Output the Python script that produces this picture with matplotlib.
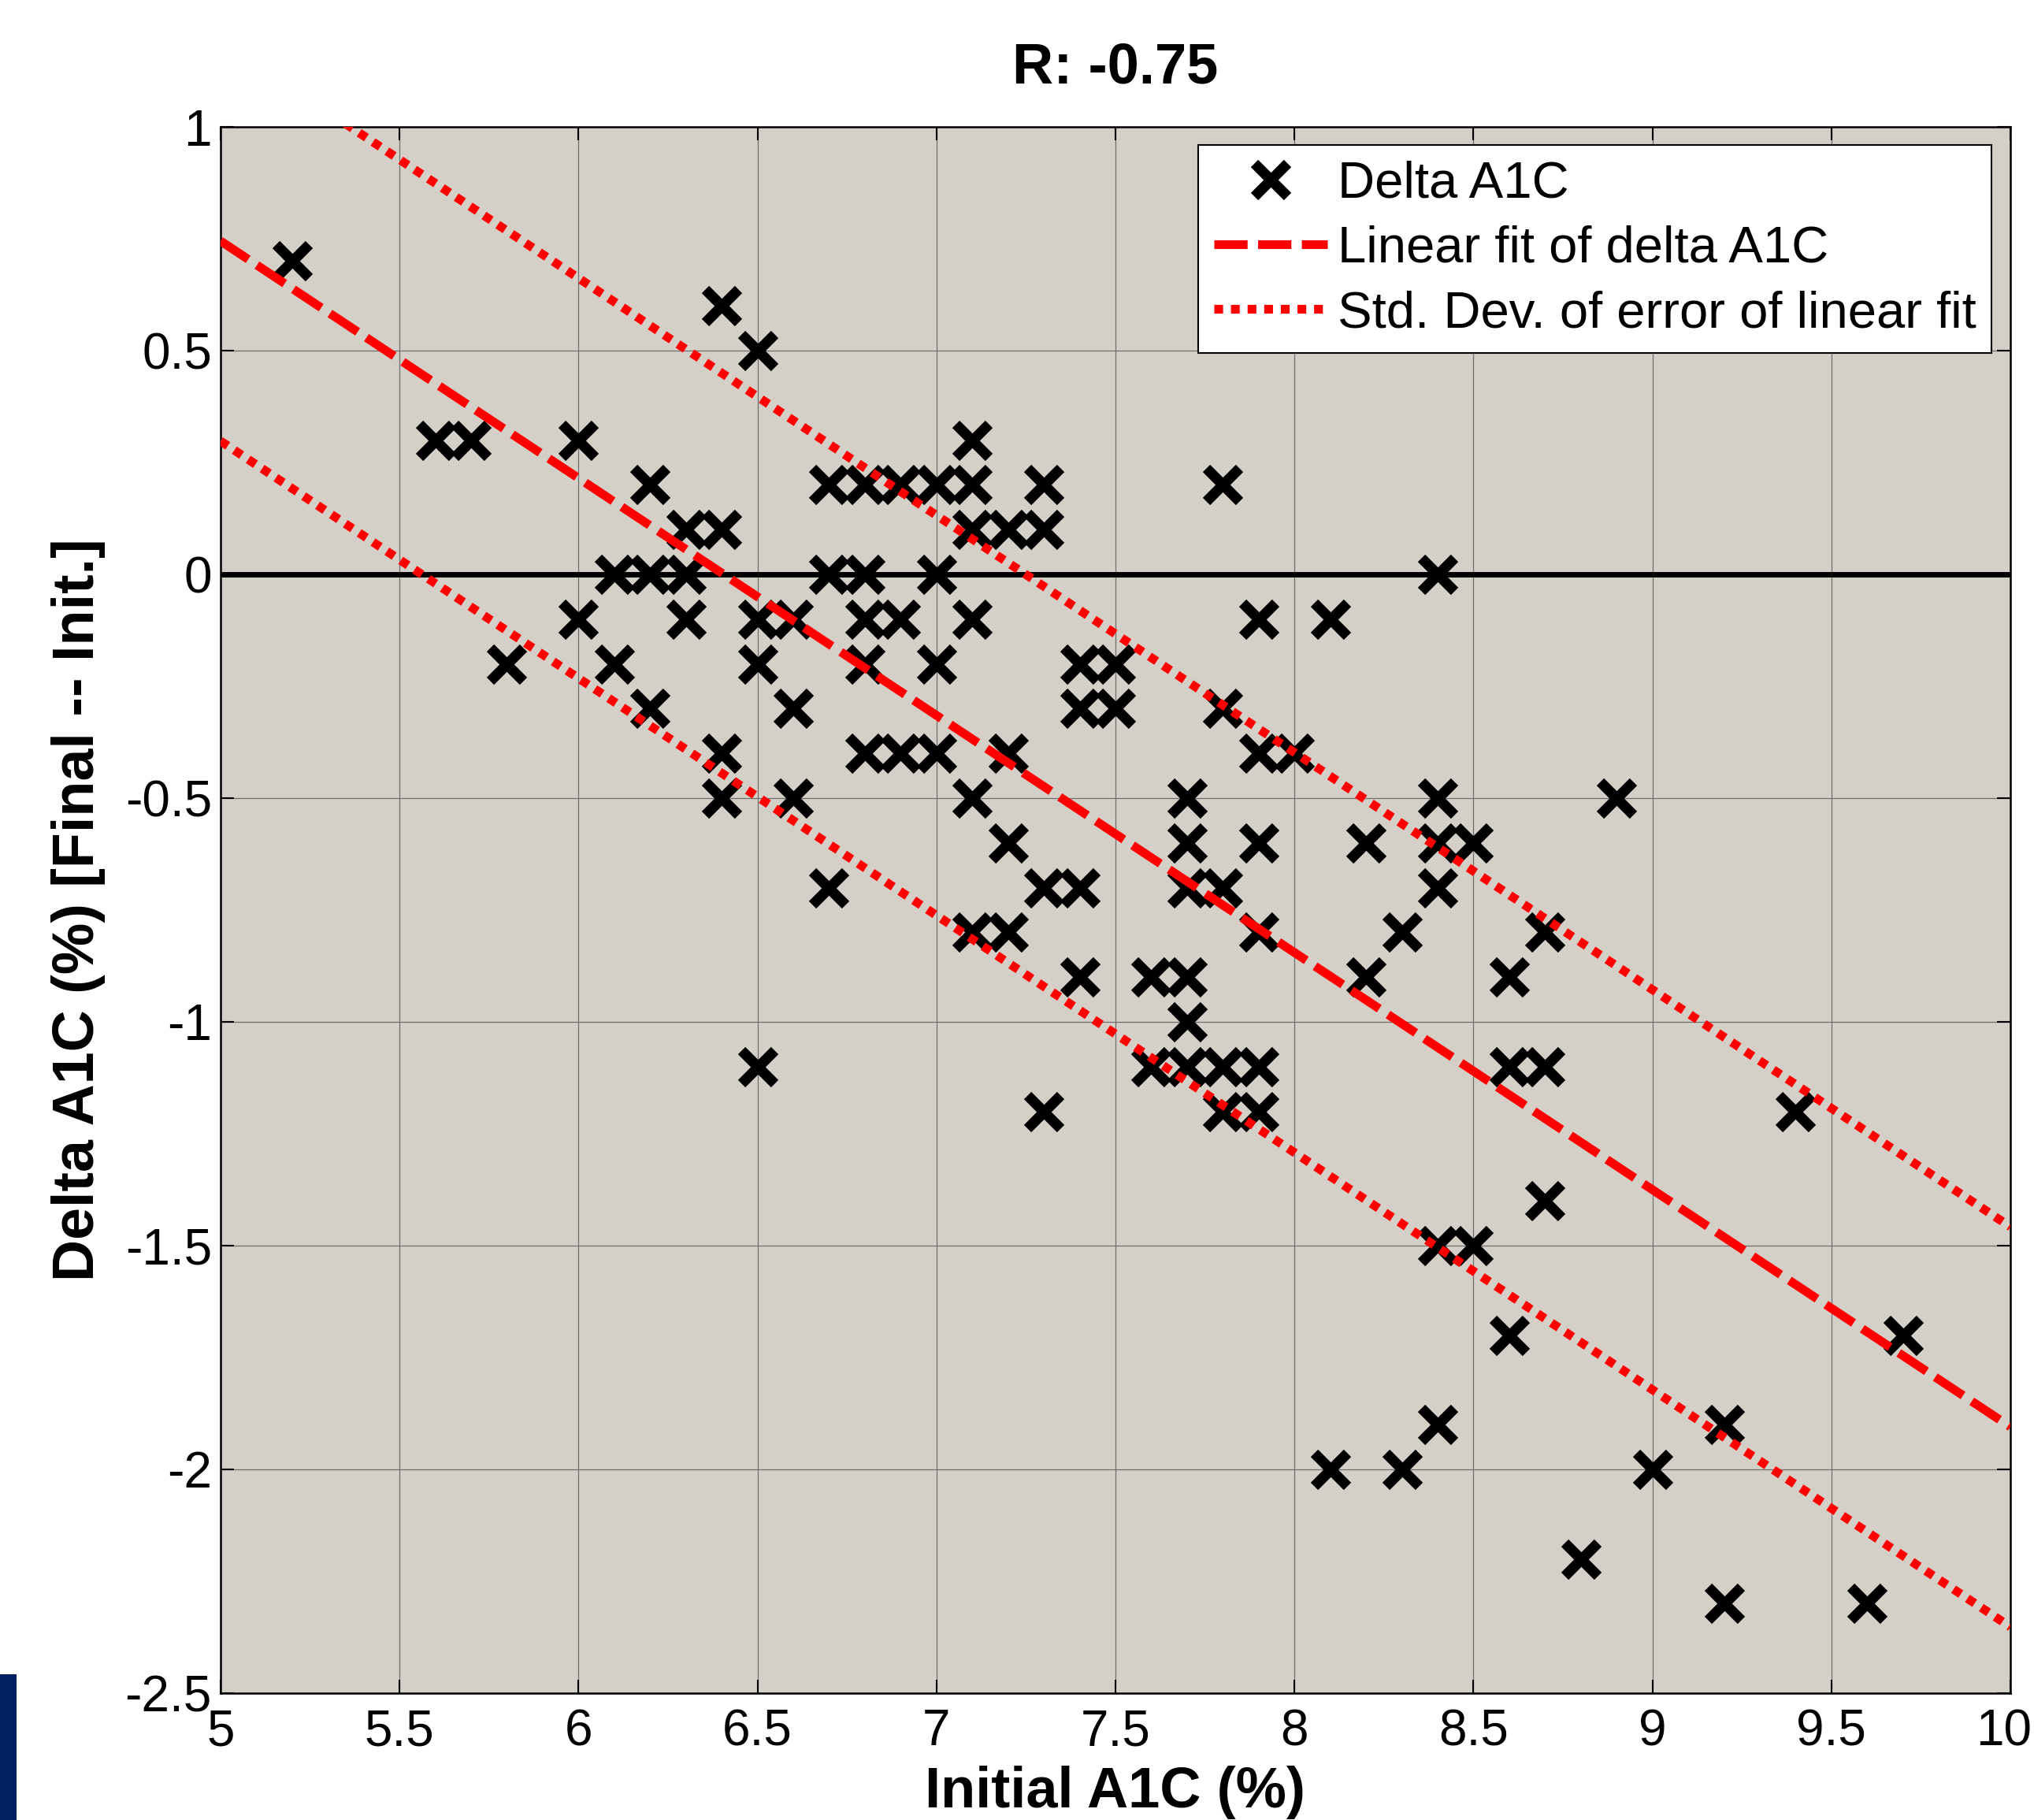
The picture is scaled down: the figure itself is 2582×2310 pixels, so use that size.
import numpy as np
import matplotlib
matplotlib.use("Agg")
from matplotlib import pyplot as plt
from matplotlib.patches import Rectangle
import matplotlib.transforms as mtransforms

plt.rcParams['font.family'] = ['Liberation Sans', 'DejaVu Sans']

# Initial A1C (%) and Delta A1C (%)
initial_a1c = [5.2, 5.6, 5.7, 5.8, 6.0, 6.0, 6.1, 6.1, 6.2, 6.2, 6.2,
               6.3, 6.3, 6.3, 6.4, 6.4, 6.4, 6.4, 6.5, 6.5, 6.5, 6.5,
               6.6, 6.6, 6.6, 6.7, 6.7, 6.7, 6.8, 6.8, 6.8, 6.8, 6.8,
               6.9, 6.9, 6.9, 7.0, 7.0, 7.0, 7.0,
               7.1, 7.1, 7.1, 7.1, 7.1, 7.1, 7.2, 7.2, 7.2, 7.2,
               7.3, 7.3, 7.3, 7.3, 7.4, 7.4, 7.4, 7.4, 7.5, 7.5,
               7.6, 7.6, 7.7, 7.7, 7.7, 7.7, 7.7, 7.7,
               7.8, 7.8, 7.8, 7.8, 7.8, 7.9, 7.9, 7.9, 7.9, 7.9, 7.9,
               8.0, 8.1, 8.1, 8.2, 8.2, 8.3, 8.3,
               8.4, 8.4, 8.4, 8.4, 8.4, 8.4, 8.5, 8.5,
               8.6, 8.6, 8.6, 8.7, 8.7, 8.7, 8.8, 8.9, 9.0,
               9.2, 9.2, 9.4, 9.6, 9.7]
delta_a1c = [0.7, 0.3, 0.3, -0.2, 0.3, -0.1, 0.0, -0.2, 0.2, 0.0, -0.3,
             0.1, 0.0, -0.1, 0.6, 0.1, -0.4, -0.5, 0.5, -0.1, -0.2, -1.1,
             -0.1, -0.3, -0.5, 0.2, 0.0, -0.7, 0.2, 0.0, -0.1, -0.2, -0.4,
             0.2, -0.1, -0.4, 0.2, 0.0, -0.2, -0.4,
             0.3, 0.2, 0.1, -0.1, -0.5, -0.8, 0.1, -0.4, -0.6, -0.8,
             0.2, 0.1, -0.7, -1.2, -0.2, -0.3, -0.7, -0.9, -0.2, -0.3,
             -0.9, -1.1, -0.5, -0.6, -0.7, -0.9, -1.0, -1.1,
             0.2, -0.3, -0.7, -1.1, -1.2, -0.1, -0.4, -0.6, -0.8, -1.1, -1.2,
             -0.4, -0.1, -2.0, -0.6, -0.9, -0.8, -2.0,
             0.0, -0.5, -0.6, -0.7, -1.5, -1.9, -0.6, -1.5,
             -0.9, -1.1, -1.7, -0.8, -1.1, -1.4, -2.2, -0.5, -2.0,
             -1.9, -2.3, -1.2, -2.3, -1.7]

# linear fit as drawn (end points at x = 5 and x = 10) and std. dev. of its error
fit_x = [5.0, 10.0]
fit_y = [0.745, -1.905]
fit_std = 0.447
r_value = -0.75

x_ticks = [5, 5.5, 6, 6.5, 7, 7.5, 8, 8.5, 9, 9.5, 10]
x_tick_labels = ['5', '5.5', '6', '6.5', '7', '7.5', '8', '8.5', '9', '9.5', '10']
y_ticks = [-2.5, -2, -1.5, -1, -0.5, 0, 0.5, 1]
y_tick_labels = ['-2.5', '-2', '-1.5', '-1', '-0.5', '0', '0.5', '1']

fig = plt.figure(figsize=(25.82, 23.10), dpi=100)
ax = fig.add_axes([0.1084, 0.0697, 0.8800, 0.8606])
ax.set_facecolor('#d4d0c8')

ax.grid(True, color='#6e6e6e', linewidth=0.9, linestyle='-')
ax.set_axisbelow(True)

ax.axhline(0, color='black', linewidth=5, zorder=2)

upper = np.array(fit_y) + fit_std
lower = np.array(fit_y) - fit_std

ax.plot(initial_a1c, delta_a1c, linestyle='none', marker='x', color='black',
        markersize=30, markeredgewidth=9.5, label='Delta A1C', zorder=3)
ax.plot(fit_x, fit_y, color='red', linewidth=8, dashes=(3.8, 1.2),
        dash_capstyle='butt', label='Linear fit of delta A1C', zorder=4)
ax.plot(fit_x, upper, color='red', linewidth=8, dashes=(1.0, 0.9),
        dash_capstyle='butt', label='Std. Dev. of error of linear fit', zorder=4)
ax.plot(fit_x, lower, color='red', linewidth=8, dashes=(1.0, 0.9),
        dash_capstyle='butt', zorder=4)

ax.set_xlim(5, 10)
ax.set_ylim(-2.5, 1)
ax.set_xticks(x_ticks)
ax.set_xticklabels(x_tick_labels)
ax.set_yticks(y_ticks)
ax.set_yticklabels(y_tick_labels)
ax.tick_params(direction='in', length=12, width=1.5, labelsize=46,
               top=True, right=True)
ax.tick_params(axis='x', pad=14)
ax.tick_params(axis='y', pad=8)
for s in ax.spines.values():
    s.set_linewidth(1.8)

# keep the last x tick label inside the figure
last = ax.get_xticklabels()[-1]
last.set_transform(last.get_transform() +
                   mtransforms.ScaledTranslation(-0.08, 0, fig.dpi_scale_trans))

ax.set_title('R: %.2f' % r_value, fontsize=52, fontweight='bold', pad=40)
ax.set_xlabel('Initial A1C (%)', fontsize=52, fontweight='bold', labelpad=9)
ax.set_ylabel('Delta A1C (%) [Final -- Init.]', fontsize=53, fontweight='bold',
              labelpad=18)

leg = ax.legend(loc='upper right', bbox_to_anchor=(0.9894, 0.9884),
                borderaxespad=0, fontsize=47, handlelength=2.2,
                handletextpad=0.2, labelspacing=0.34, borderpad=0.3,
                fancybox=False, framealpha=1, edgecolor='black')
leg.get_frame().set_linewidth(1.5)

# navy strip in the bottom-left corner
fig.patches.append(Rectangle((0, 0), 21 / 2582, 185 / 2310, transform=fig.transFigure,
                             facecolor='#00215f', edgecolor='none'))

fig.savefig('out.png', dpi=100)
